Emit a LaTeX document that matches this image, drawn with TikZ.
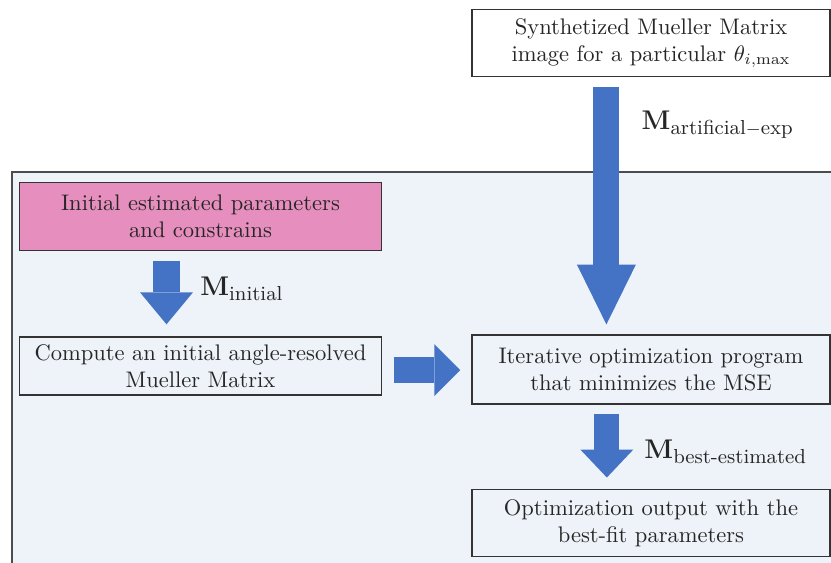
\documentclass[tikz,border=0pt]{standalone}
\usepackage{amsmath}
\usetikzlibrary{arrows.meta}
\definecolor{panelbg}{RGB}{238,243,249}
\definecolor{paramspink}{RGB}{230,142,190}
\definecolor{flowblue}{RGB}{68,114,196}

\begin{document}
\begin{tikzpicture}[
    x = 0.444pt, y = -0.444pt,
    stepbox/.style = {draw = black!80, line width = 0.6pt, text = black!85, align = center, inner sep = 2pt, minimum width = 159pt, minimum height = 30pt},
    flow/.style n args = {3}{draw = flowblue, line width = #1, -{Triangle[width = #2, length = #3, line width = 0pt]}},
    mlabel/.style = {text = black!85, font = \large},
    ]
    \useasboundingbox (0,0) rectangle (831,562);
    \clip (0,0) rectangle (831,562);
    \filldraw[fill = panelbg, draw = black!70, line width = 0.5pt] (12,172) rectangle (860,590);

    \node[stepbox, fill = white] (synth) at (651,43) {Synthetized Mueller Matrix\\image for a particular $\theta_{i,\max}$};
    \node[stepbox, fill = paramspink, minimum width = 161pt] (params) at (200.5,216.5) {Initial estimated parameters\\and constrains};
    \node[stepbox, minimum width = 161pt, minimum height = 25.8pt] (compute) at (200.5,366) {Compute an initial angle-resolved\\Mueller Matrix};
    \node[stepbox, minimum height = 30.6pt] (iter) at (651,369.5) {Iterative optimization program\\that minimizes the MSE};
    \node[stepbox] (result) at (651,523) {Optimization output with the\\best-fit parameters};

    \draw[flow = {11.5pt}{26.2pt}{26.6pt}, shorten <= 4.4pt, shorten >= 4.4pt] ([xshift = -19.8pt]synth.south) -- node[mlabel, pos = 0.185, right = 6.6pt] (artlabel) {$\mathbf{M}_{\text{\small artificial}-\text{\small exp}}$} ([xshift = -19.8pt]iter.north);
    \draw[flow = {12pt}{23.5pt}{14.2pt}, shorten <= 4.4pt, shorten >= 5.3pt] ([xshift = -15.1pt]params.south) -- node[mlabel, pos = 0.44, right = 5.7pt] (initlabel) {$\mathbf{M}_{\text{\small initial}}$} ([xshift = -15.1pt]compute.north);
    \draw[flow = {11.5pt}{23pt}{11.5pt}, shorten <= 4.9pt, shorten >= 4.9pt] ([yshift = -1.8pt]compute.east) -- ([yshift = -1.8pt]compute.east -| iter.west);
    \draw[flow = {11.1pt}{23.5pt}{12.4pt}, shorten <= 4pt, shorten >= 4.9pt] ([xshift = -19.6pt]iter.south) -- node[mlabel, pos = 0.565, right = 7.8pt] (bestlabel) {$\mathbf{M}_{\text{\small best-estimated}}$} ([xshift = -19.6pt]result.north);
\end{tikzpicture}
\end{document}
